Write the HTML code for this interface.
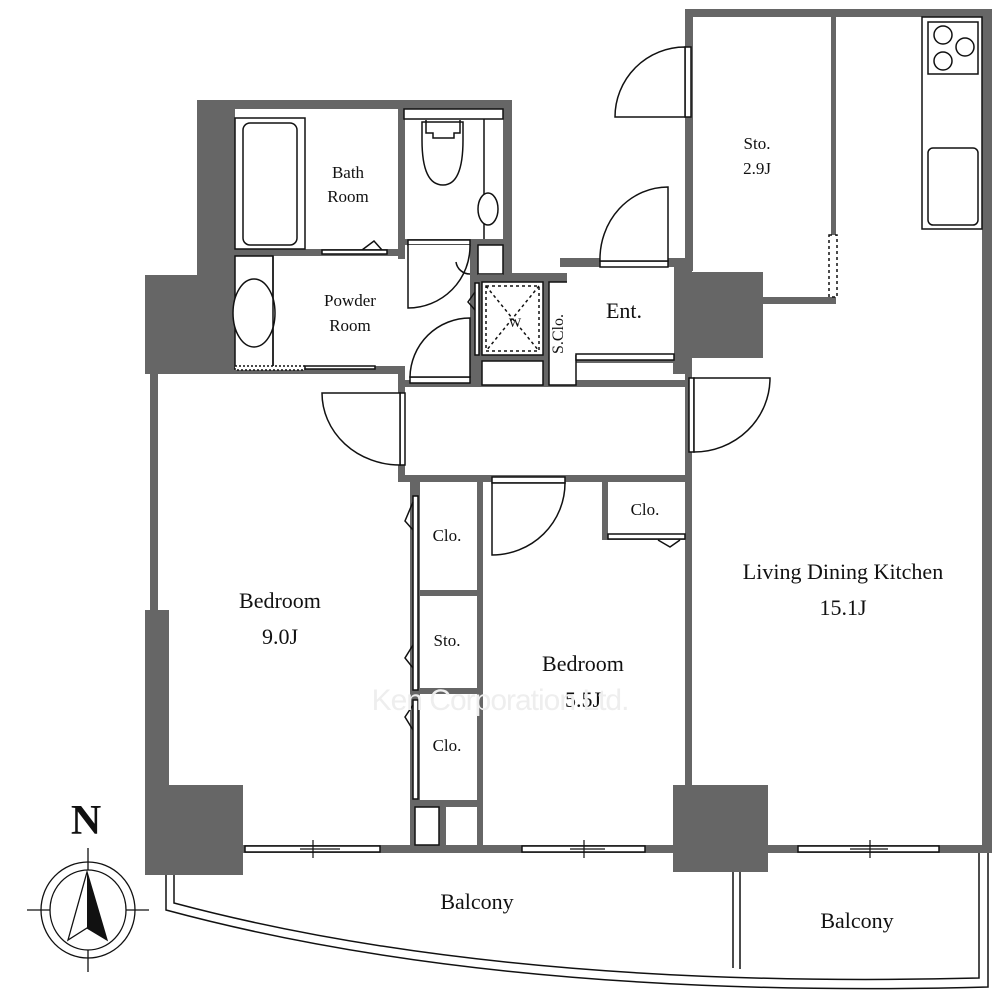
<!DOCTYPE html>
<html><head><meta charset="utf-8"><style>
html,body{margin:0;padding:0;background:#fff}
svg{display:block}
text{font-family:"Liberation Serif",serif;fill:#111}
</style></head><body>
<svg width="1000" height="1000" viewBox="0 0 1000 1000" xmlns="http://www.w3.org/2000/svg">
<rect width="1000" height="1000" fill="#fff"/>
<g fill="#666">
<!-- right block -->
<rect x="685" y="9" width="307" height="8"/>
<rect x="685" y="9" width="8" height="262"/>
<rect x="982" y="9" width="10" height="844"/>
<rect x="831" y="17" width="5" height="218"/>
<rect x="763" y="297" width="73" height="7"/>
<rect x="673" y="272" width="90" height="86"/>
<rect x="673" y="258" width="19" height="116"/>
<!-- bath block -->
<rect x="197" y="100" width="315" height="9"/>
<rect x="197" y="100" width="38" height="180"/>
<rect x="503" y="100" width="9" height="180"/>
<rect x="398" y="109" width="7" height="150"/>
<rect x="235" y="249" width="170" height="7"/>
<rect x="404" y="239" width="108" height="6"/>
<rect x="470" y="245" width="8" height="140"/>
<rect x="503" y="273" width="64" height="10"/>
<rect x="560" y="258" width="130" height="9"/>
<rect x="470" y="275" width="106" height="110"/>
<rect x="145" y="275" width="90" height="97"/>
<rect x="145" y="366" width="260" height="8"/>
<rect x="398" y="366" width="7" height="116"/>
<rect x="398" y="380" width="294" height="7"/>
<rect x="576" y="355" width="116" height="8"/>
<!-- hallway / bedrooms -->
<rect x="398" y="475" width="294" height="7"/>
<rect x="685" y="360" width="7" height="430"/>
<rect x="477" y="482" width="6" height="370"/>
<rect x="602" y="482" width="6" height="58"/>
<rect x="602" y="534" width="83" height="6"/>
<rect x="410" y="482" width="10" height="370"/>
<rect x="420" y="590" width="57" height="6"/>
<rect x="420" y="688" width="57" height="6"/>
<rect x="420" y="800" width="57" height="7"/>
<rect x="439" y="807" width="7" height="40"/>
<rect x="150" y="370" width="8" height="245"/>
<rect x="145" y="610" width="24" height="180"/>
<rect x="145" y="785" width="98" height="90"/>
<rect x="243" y="845" width="742" height="8"/>
<rect x="673" y="785" width="95" height="87"/>
</g>
<g fill="#fff" stroke="#111" stroke-width="1.5">
<!-- sto dotted door -->
<rect x="829" y="235" width="8" height="62" stroke-dasharray="3,3"/>
<!-- kitchen -->
<rect x="922" y="17" width="60" height="212"/>
<rect x="928" y="22" width="50" height="52"/>
<circle cx="943" cy="35" r="9"/><circle cx="965" cy="47" r="9"/><circle cx="943" cy="61" r="9"/>
<rect x="928" y="148" width="50" height="77" rx="5"/>
<!-- bath -->
<rect x="235" y="118" width="70" height="131"/>
<rect x="243" y="123" width="54" height="122" rx="7"/>
<rect x="322" y="250" width="65" height="4"/>
<path d="M362 250 L374 241 L382 250" fill="none"/>
<!-- toilet -->
<rect x="404" y="109" width="99" height="10"/>
<line x1="484" y1="119" x2="484" y2="239"/>
<path d="M422 122 L463 122 L463 140 Q463 185 443 185 Q422 185 422 140 Z"/>
<path d="M426 120 L426 133 L433 133 L433 138 L454 138 L454 133 L460 133 L460 120" fill="none"/>
<ellipse cx="488" cy="209" rx="10" ry="16"/>
<!-- powder -->
<rect x="235" y="256" width="38" height="112"/>
<ellipse cx="254" cy="313" rx="21" ry="34"/>
<line x1="273" y1="256" x2="273" y2="368"/>
<rect x="235" y="366" width="70" height="4" stroke-dasharray="2,2"/>
<rect x="305" y="366" width="70" height="3"/>
<rect x="408" y="240" width="62" height="5"/>
<path d="M408 245 L408 308 A62 62 0 0 0 470 245" fill="#fff"/>
<rect x="478" y="245" width="25" height="29"/>
<path d="M456 262 A14 14 0 0 0 470 274" fill="none"/>
<!-- washer / s.clo -->
<rect x="482" y="282" width="61" height="73"/>
<rect x="486" y="286" width="53" height="65" stroke-dasharray="3,3"/>
<line x1="486" y1="286" x2="539" y2="351" stroke-dasharray="3,3"/>
<line x1="539" y1="286" x2="486" y2="351" stroke-dasharray="3,3"/>
<rect x="482" y="361" width="61" height="24"/>
<rect x="549" y="282" width="27" height="103"/>
<rect x="475" y="283" width="4" height="72"/>
<path d="M475 292 L468 302 L475 310" fill="none"/>
<!-- ent -->
<rect x="567" y="267" width="107" height="88" stroke="none"/>
<rect x="576" y="354" width="98" height="6"/>
<rect x="600" y="261" width="68" height="6"/>
<path d="M668 187 L668 261 L600 261 A68 72 0 0 1 668 187 Z"/>
<!-- top door -->
<rect x="685" y="47" width="6" height="70"/>
<path d="M685 47 L685 117 L615 117 A70 70 0 0 1 685 47 Z"/>
<!-- powder door from hall -->
<rect x="410" y="377" width="60" height="6"/>
<path d="M470 318 L470 377 L410 377 A60 60 0 0 1 470 318 Z"/>
<!-- bedroom1 door -->
<rect x="400" y="393" width="5" height="72"/>
<path d="M400 393 L322 393 A78 72 0 0 0 400 465 Z"/>
<!-- LDK door -->
<rect x="689" y="378" width="5" height="74"/>
<path d="M694 378 L770 378 A76 74 0 0 1 694 452 Z"/>
<!-- bedroom2 door -->
<rect x="492" y="477" width="73" height="6"/>
<path d="M492 483 L565 483 A73 72 0 0 1 492 555 Z"/>
<!-- small clo -->
<rect x="608" y="534" width="77" height="5"/>
<path d="M658 540 L670 547 L680 540" fill="none"/>
<!-- closet sliding -->
<rect x="413" y="496" width="5" height="194"/>
<rect x="413" y="700" width="5" height="99"/>
<path d="M413 502 L405 521 L413 530" fill="none"/>
<path d="M413 645 L405 658 L413 668" fill="none"/>
<path d="M413 705 L405 717 L413 730" fill="none"/>
<rect x="415" y="807" width="24" height="38"/>
<!-- windows -->
<rect x="245" y="846" width="135" height="6"/>
<rect x="522" y="846" width="123" height="6"/>
<rect x="798" y="846" width="141" height="6"/>
</g>
<g stroke="#111" stroke-width="1.2">
<line x1="300" y1="849" x2="340" y2="849"/><line x1="313" y1="840" x2="313" y2="858"/>
<line x1="570" y1="849" x2="605" y2="849"/><line x1="584" y1="840" x2="584" y2="858"/>
<line x1="850" y1="849" x2="888" y2="849"/><line x1="870" y1="840" x2="870" y2="858"/>
</g>
<!-- balcony -->
<g fill="none" stroke="#111" stroke-width="1.5">
<path d="M166 875 L166 910 Q500 1000 988 987 L988 853"/>
<path d="M174 875 L174 903 Q500 990 979 978 L979 853"/>
<line x1="733" y1="872" x2="733" y2="968"/>
<line x1="740" y1="872" x2="740" y2="969"/>
</g>
<!-- compass -->
<g fill="none" stroke="#111" stroke-width="1.3">
<ellipse cx="88" cy="910" rx="47" ry="48"/>
<ellipse cx="88" cy="910" rx="38" ry="40"/>
<line x1="27" y1="910" x2="50" y2="910"/><line x1="126" y1="910" x2="149" y2="910"/>
<line x1="88" y1="848" x2="88" y2="870"/><line x1="88" y1="950" x2="88" y2="972"/>
<path d="M87 872 L68 940 L87 928 L107 940 Z" fill="#fff"/>
</g>
<path d="M87 872 L87 928 L107 940 Z" fill="#111"/>
<text x="86" y="834" font-size="42" font-weight="bold" text-anchor="middle">N</text>
<!-- labels -->
<g font-size="17" text-anchor="middle">
<text x="348" y="178">Bath</text><text x="348" y="202">Room</text>
<text x="350" y="306">Powder</text><text x="350" y="331">Room</text>
<text x="757" y="149">Sto.</text><text x="757" y="174">2.9J</text>
<text x="447" y="541">Clo.</text><text x="447" y="646">Sto.</text><text x="447" y="751">Clo.</text>
<text x="645" y="515">Clo.</text>
<text x="515" y="327" font-size="13">W</text>
</g>
<text x="571" y="334" font-size="16" text-anchor="middle" transform="rotate(-90 571 334)" dy="-8">S.Clo.</text>
<text x="624" y="318" font-size="22" text-anchor="middle">Ent.</text>
<g font-size="22" text-anchor="middle">
<text x="280" y="608">Bedroom</text><text x="280" y="644">9.0J</text>
<text x="583" y="671">Bedroom</text><text x="583" y="707">5.5J</text>
<text x="843" y="579">Living Dining Kitchen</text><text x="843" y="615">15.1J</text>
<text x="477" y="909">Balcony</text><text x="857" y="928">Balcony</text>
</g>
<text x="500" y="710" font-size="30" text-anchor="middle" style="fill:#eee;font-family:'Liberation Sans',sans-serif" letter-spacing="-1">Ken Corporation Ltd.</text>
</svg>
</body></html>
